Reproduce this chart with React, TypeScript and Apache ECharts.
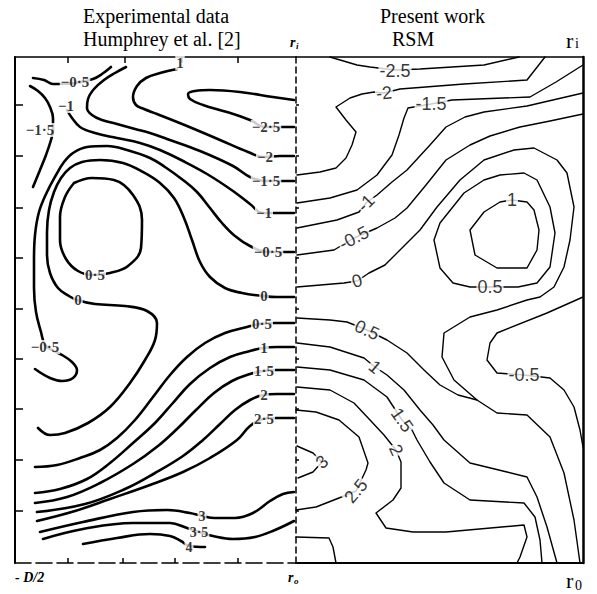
import React, { useEffect, useRef } from "react";
import * as echarts from "echarts";

type Pt = [number, number];
type Lbl = [string, number, number, number];

// Panel extents in digitised units (x from -D/2 to the divider, y from r_i at top to r_o at bottom)
const LEFT_X_MAX = 281;
const RIGHT_X_MAX = 287;
const Y_MAX = 506;

// Tick values of the experimental panel
const leftTopTicks = [53, 110, 167, 223];
const leftBottomTicks = [53, 108, 160, 223];
const leftSideTicks = [48, 99, 151, 201, 252, 302, 352, 403, 454];

// ---------- Experimental data (Humphrey et al.) contours ----------
const expM05Corner: Pt[] = [[18, 21], [29, 23], [38, 27], [60, 26], [78, 22], [87, 17], [96, 10]];
const expM15Corner: Pt[] = [[15, 29], [23, 34], [30, 41], [35, 50], [38, 61], [38, 73], [36, 83], [31, 98], [25, 113], [18, 130]];
const expM25: Pt[] = [[279, 43], [258, 40], [225, 35], [195, 33], [180, 34], [173, 37], [175, 42], [188, 48], [212, 55], [235, 63], [250, 70], [265, 70], [279, 70]];
const expM2: Pt[] = [[162, 12], [145, 16], [131, 21], [122, 29], [118, 40], [121, 48], [129, 52], [142, 57], [172, 69], [205, 83], [233, 95], [249, 100], [265, 99], [279, 99]];
const expM15: Pt[] = [[111, 10], [100, 16], [89, 23], [79, 32], [73, 42], [72, 51], [77, 58], [87, 63], [102, 67], [120, 72], [135, 76], [152, 82], [185, 94], [218, 109], [235, 120], [251, 124], [265, 124], [279, 124]];
const expM1: Pt[] = [[279, 156], [263, 156], [248, 156], [235, 147], [218, 134], [192, 117], [168, 104], [145, 93], [125, 86], [102, 81], [80, 76], [65, 70], [57, 61], [52, 53]];
const expM05: Pt[] = [[279, 195], [265, 195], [252, 195], [235, 189], [220, 179], [207, 166], [195, 151], [182, 135], [168, 123], [150, 110], [135, 101], [112, 93], [92, 89], [72, 90], [58, 96], [49, 105], [41, 118], [32, 135], [24, 155], [20, 178], [19, 203], [19, 231], [21, 255], [26, 275], [30, 288], [37, 293], [47, 298], [57, 305], [62, 313], [58, 321], [47, 324], [35, 321], [20, 312]];
const exp0: Pt[] = [[279, 240], [262, 240], [248, 239], [227, 236], [210, 231], [195, 220], [185, 205], [177, 183], [169, 161], [159, 141], [145, 126], [128, 115], [108, 106], [85, 103], [67, 105], [55, 111], [46, 121], [39, 135], [34, 153], [32, 175], [32, 198], [35, 216], [43, 231], [54, 239], [62, 243], [80, 247], [110, 249], [132, 254], [142, 266], [140, 283], [130, 303], [115, 326], [95, 350], [73, 366], [50, 376], [35, 378], [23, 371]];
const exp05Core: Pt[] = [[59, 126], [77, 121], [99, 123], [118, 138], [127, 163], [126, 191], [113, 209], [95, 216], [78, 218], [63, 214], [51, 202], [45, 183], [45, 160], [50, 140], [59, 126]];
const exp05: Pt[] = [[279, 266], [260, 266], [245, 267], [232, 270], [210, 276], [190, 286], [172, 300], [155, 318], [138, 340], [120, 363], [102, 381], [85, 393], [65, 401], [42, 408], [20, 410]];
const exp1: Pt[] = [[279, 290], [262, 290], [248, 291], [235, 294], [215, 300], [195, 311], [175, 327], [157, 347], [140, 366], [118, 386], [95, 406], [72, 422], [45, 432], [20, 436]];
const exp15: Pt[] = [[279, 313], [262, 313], [248, 314], [235, 317], [217, 324], [199, 336], [181, 353], [163, 371], [143, 389], [118, 407], [85, 426], [52, 440], [20, 446]];
const exp2: Pt[] = [[279, 337], [262, 337], [248, 338], [235, 343], [220, 353], [205, 367], [188, 383], [168, 399], [140, 416], [110, 432], [70, 447], [22, 455]];
const exp25: Pt[] = [[279, 361], [262, 361], [248, 362], [235, 369], [222, 383], [195, 401], [168, 415], [135, 428], [95, 442], [60, 454], [22, 464]];
const exp3: Pt[] = [[25, 475], [68, 465], [118, 455], [152, 453], [175, 456], [187, 459], [200, 461], [220, 461], [238, 456], [255, 444], [268, 437], [279, 435]];
const exp35: Pt[] = [[28, 482], [68, 472], [118, 466], [155, 466], [172, 471], [184, 475], [198, 479], [218, 482], [240, 480], [260, 473], [279, 464]];
const exp4: Pt[] = [[68, 487], [102, 481], [135, 477], [155, 479], [166, 484], [174, 489], [190, 490]];

const expLabels: Lbl[] = [
  ["\u22120\u00b75", 60, 25, 0], ["\u22121", 51, 49, 0], ["\u22121\u00b75", 25, 73, 0], ["1", 165, 6, 0],
  ["\u22122\u00b75", 251, 70, 0], ["\u22122", 250, 100, 0], ["\u22121\u00b75", 251, 124, 0], ["\u22121", 249, 156, 0],
  ["\u22120\u00b75", 253, 195, 0], ["0", 249, 239, 0], ["0\u00b75", 80, 218, 0], ["0", 63, 243, 0],
  ["\u22120\u00b75", 30, 290, 0], ["0\u00b75", 247, 267, 0], ["1", 249, 291, 0], ["1\u00b75", 249, 314, 0],
  ["2", 249, 338, 0], ["2\u00b75", 249, 362, 0],
];
const expBottomLabels: Lbl[] = [["3", 187, 459, 0], ["3\u00b75", 184, 475, 0], ["4", 174, 490, 0]];

// ---------- Present work (RSM) contours ----------
const rsmM25: Pt[] = [[34, 0], [61, 8], [74, 10], [99, 13], [124, 12], [188, 8], [223, 0]];
const rsmM2: Pt[] = [[1, 118], [24, 115], [40, 111], [50, 101], [56, 88], [60, 75], [50, 63], [40, 50], [54, 41], [66, 37], [78, 35], [88, 36], [104, 32], [168, 27], [231, 23], [249, 0]];
const rsmM15: Pt[] = [[1, 146], [34, 141], [61, 133], [81, 118], [96, 98], [103, 78], [108, 61], [112, 51], [135, 47], [156, 43], [234, 40], [260, 25], [287, 8]];
const rsmM1: Pt[] = [[1, 171], [41, 163], [63, 155], [70, 146], [81, 138], [96, 125], [111, 113], [134, 88], [150, 70], [169, 60], [188, 55], [231, 49], [287, 36]];
const rsmM05: Pt[] = [[1, 198], [38, 193], [58, 181], [81, 171], [99, 161], [111, 151], [130, 128], [150, 103], [174, 88], [194, 79], [224, 70], [254, 64], [287, 57]];
const rsm0: Pt[] = [[1, 230], [48, 226], [61, 224], [73, 216], [89, 208], [104, 193], [124, 173], [141, 150], [164, 123], [188, 103], [218, 93], [238, 91], [261, 103], [271, 116], [278, 150], [274, 183], [268, 210], [258, 230], [244, 240], [231, 243], [201, 253], [174, 260], [148, 276], [146, 300], [158, 323], [181, 343], [201, 356], [231, 358], [254, 380], [268, 416], [278, 463], [284, 506]];
const rsm05Loop: Pt[] = [[194, 230], [174, 230], [157, 226], [144, 211], [138, 183], [144, 166], [168, 136], [188, 123], [204, 118], [228, 116], [241, 123], [254, 150], [259, 176], [254, 210], [241, 226], [222, 230], [194, 230]];
const rsm1Loop: Pt[] = [[216, 143], [204, 145], [188, 155], [174, 173], [179, 198], [201, 211], [231, 211], [241, 193], [243, 173], [238, 153], [231, 145], [216, 143]];
const rsmM05Right: Pt[] = [[287, 240], [251, 256], [201, 276], [194, 286], [191, 303], [201, 316], [228, 318], [254, 321], [268, 333], [278, 350], [284, 373], [287, 390]];
const rsm05: Pt[] = [[1, 261], [34, 263], [51, 265], [71, 273], [91, 283], [111, 296], [128, 313], [144, 328], [162, 338], [181, 343]];
const rsm1: Pt[] = [[1, 286], [34, 290], [68, 301], [79, 310], [91, 318], [108, 333], [124, 353], [137, 368], [148, 383], [174, 406], [211, 415], [231, 420], [241, 440], [251, 470], [261, 506]];
const rsm15: Pt[] = [[1, 310], [34, 313], [68, 323], [91, 340], [106, 363], [116, 373], [121, 383], [134, 405], [148, 426], [174, 443], [228, 446], [239, 460], [244, 483], [246, 506]];
const rsm2: Pt[] = [[1, 330], [34, 333], [58, 346], [74, 363], [88, 378], [100, 393], [105, 405], [105, 431], [97, 443], [80, 456], [90, 471], [117, 475], [150, 475], [228, 468], [231, 480], [224, 500], [221, 506]];
const rsm25: Pt[] = [[0, 353], [20, 355], [43, 363], [63, 380], [72, 406], [70, 413], [60, 434], [43, 441], [20, 450], [0, 453]];
const rsm3: Pt[] = [[1, 389], [17, 396], [26, 405], [17, 415], [2, 421]];
const rsmCorner: Pt[] = [[0, 480], [33, 481], [37, 490], [40, 506]];

const rsmLabels: Lbl[] = [
  ["-2.5", 99, 14, 0], ["-2", 88, 36, 5], ["-1.5", 135, 47, 0], ["-1", 70, 146, 45], ["-0.5", 58, 181, 27],
  ["0", 61, 224, 15], ["1", 216, 143, 0], ["0.5", 194, 230, 0], ["-0.5", 228, 318, 0], ["0.5", 71, 273, -25],
  ["1", 79, 310, -40], ["1.5", 106, 363, -55], ["2", 100, 393, -65], ["2.5", 60, 434, 50], ["3", 26, 405, 40],
];

const expContours: Pt[][] = [expM05Corner, expM15Corner, expM25, expM2, expM15, expM1, expM05, exp0, exp05Core, exp05, exp1, exp15, exp2, exp25, exp3, exp35, exp4];
const rsmContours: Pt[][] = [rsmM25, rsmM2, rsmM15, rsmM1, rsmM05, rsm0, rsm05Loop, rsm1Loop, rsmM05Right, rsm05, rsm1, rsm15, rsm2, rsm25, rsm3, rsmCorner];

const SERIF = '"Liberation Serif", "Times New Roman", serif';
const SANS = '"Liberation Sans", Arial, sans-serif';

function lineSeries(pts: Pt[], axis: number, smooth: number | boolean, width: number) {
  return {
    type: "line", xAxisIndex: axis === 0 ? 0 : 2, yAxisIndex: axis === 0 ? 0 : 2,
    data: pts, symbol: "none", showSymbol: false, smooth, clip: false, silent: true, z: 2,
    lineStyle: { color: "#000", width, cap: "round", join: "round" },
  };
}

function labelSeries(labels: Lbl[], axis: number, font: any) {
  return {
    type: "scatter", xAxisIndex: axis === 0 ? 0 : 2, yAxisIndex: axis === 0 ? 0 : 2,
    symbolSize: 1, silent: true, z: 6, itemStyle: { color: "rgba(0,0,0,0)" },
    data: labels.map(([t, x, y, r]) => ({ name: t, value: [x, y], label: { rotate: r } })),
    label: { show: true, position: "inside", formatter: "{b}", color: "#000", backgroundColor: "#fff", padding: [0, 1], ...font },
  };
}

function txt(text: string, x: number, y: number, size: number, extra: any = {}) {
  return {
    type: "text", x, y, silent: true,
    style: { text, fontSize: size, fontFamily: SERIF, fill: "#000", align: "left", verticalAlign: "middle", textAlign: "left", textVerticalAlign: "middle", ...extra },
  };
}

const noLabel = { show: false };
const noSplit = { show: false };

export default function App() {
  const ref = useRef<HTMLDivElement>(null);
  useEffect(() => {
    if (!ref.current) return;
    const chart = echarts.init(ref.current, undefined, { renderer: "svg" });
    const tickStyle = { color: "#000", width: 1.5 };
    const option: any = {
      animation: false,
      backgroundColor: "#fff",
      grid: [
        { left: 15, top: 57, width: 281, height: 506, outerBoundsMode: "none" },
        { left: 296, top: 57, width: 287, height: 506, outerBoundsMode: "none" },
      ],
      xAxis: [
        { type: "value", gridIndex: 0, position: "bottom", min: 0, max: LEFT_X_MAX, axisLabel: noLabel, splitLine: noSplit,
          axisLine: { show: true, onZero: false, lineStyle: { color: "#000", width: 1.6, type: [16, 5] } },
          axisTick: { show: true, inside: true, length: 5, customValues: leftBottomTicks, lineStyle: tickStyle } },
        { type: "value", gridIndex: 0, position: "top", min: 0, max: LEFT_X_MAX, axisLabel: noLabel, splitLine: noSplit,
          axisLine: { show: true, onZero: false, lineStyle: { color: "#000", width: 1.6 } },
          axisTick: { show: true, inside: true, length: 6, customValues: leftTopTicks, lineStyle: tickStyle } },
        { type: "value", gridIndex: 1, position: "bottom", min: 0, max: RIGHT_X_MAX, axisLabel: noLabel, splitLine: noSplit,
          axisLine: { show: true, onZero: false, lineStyle: { color: "#000", width: 2 } }, axisTick: { show: false } },
        { type: "value", gridIndex: 1, position: "top", min: 0, max: RIGHT_X_MAX, axisLabel: noLabel, splitLine: noSplit,
          axisLine: { show: true, onZero: false, lineStyle: { color: "#000", width: 1.5 } }, axisTick: { show: false } },
      ],
      yAxis: [
        { type: "value", gridIndex: 0, position: "left", inverse: true, min: 0, max: Y_MAX, axisLabel: noLabel, splitLine: noSplit,
          axisLine: { show: true, onZero: false, lineStyle: { color: "#000", width: 2 } },
          axisTick: { show: true, inside: true, length: 8, customValues: leftSideTicks, lineStyle: tickStyle } },
        { type: "value", gridIndex: 0, position: "right", inverse: true, min: 0, max: Y_MAX, axisLabel: noLabel, splitLine: noSplit,
          axisLine: { show: true, onZero: false, lineStyle: { color: "#000", width: 1.5, type: [6, 4] } },
          axisTick: { show: true, inside: false, length: 3, customValues: leftSideTicks, lineStyle: tickStyle } },
        { type: "value", gridIndex: 1, position: "right", inverse: true, min: 0, max: Y_MAX, axisLabel: noLabel, splitLine: noSplit,
          axisLine: { show: true, onZero: false, lineStyle: { color: "#000", width: 2.5 } }, axisTick: { show: false } },
      ],
      series: [
        ...expContours.map((c) => lineSeries(c, 0, 0.4, 2.6)),
        ...rsmContours.map((c) => lineSeries(c, 1, false, 1.4)),
        labelSeries(expLabels, 0, { fontFamily: SERIF, fontSize: 15, fontWeight: "bold", lineHeight: 14 }),
        labelSeries(expBottomLabels, 0, { fontFamily: SERIF, fontSize: 14, fontWeight: "bold", lineHeight: 12 }),
        labelSeries(rsmLabels, 1, { fontFamily: SANS, fontSize: 18 }),
      ],
      graphic: [
        txt("Experimental data", 83, 15.5, 20),
        txt("Humphrey et al. [2]", 83, 38.5, 20),
        txt("Present work", 380, 15.5, 20),
        txt("RSM", 392, 38.5, 20),
        txt("r", 566, 40.5, 22),
        txt("i", 575, 43.5, 14),
        txt("r", 566, 580, 22),
        txt("0", 575, 585, 14),
        txt("r", 290, 42.5, 14, { fontStyle: "italic", fontWeight: "bold" }),
        txt("i", 296, 45.5, 9, { fontStyle: "italic", fontWeight: "bold" }),
        txt("- D/2", 15, 577, 14, { fontStyle: "italic", fontWeight: "bold" }),
        txt("r", 288, 577, 14, { fontStyle: "italic", fontWeight: "bold" }),
        txt("o", 294, 581, 9, { fontStyle: "italic", fontWeight: "bold" }),
      ],
    };
    chart.setOption(option);
    return () => chart.dispose();
  }, []);
  return <div ref={ref} style={{ position: "fixed", left: 0, top: 0, width: 597, height: 594, background: "#fff" }} />;
}
